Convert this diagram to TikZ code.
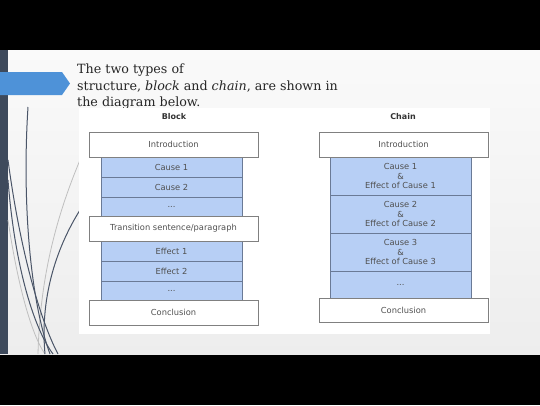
\documentclass[tikz,border=0pt]{standalone}
\usepackage{fontspec}
\setmainfont{DejaVu Serif}
\newfontfamily\diagfont{DejaVu Sans}
\definecolor{barblue}{HTML}{3E4A5C}
\definecolor{arrowblue}{HTML}{4E92D8}
\definecolor{cellblue}{HTML}{B7CFF5}
\definecolor{celledge}{HTML}{6A7A96}
\definecolor{boxedge}{HTML}{808080}
\definecolor{txtgray}{HTML}{505050}
\definecolor{curvedark}{HTML}{4A5568}
\tikzset{
  cell/.style={draw=celledge, fill=cellblue, line width=0.6pt, inner sep=0pt,
    minimum width=141pt, text=txtgray, font=\diagfont\fontsize{8.3}{9.6}\selectfont, align=center},
  wbox/.style={draw=boxedge, fill=white, line width=0.6pt, inner sep=0pt,
    minimum width=169pt, text=txtgray, font=\diagfont\fontsize{8.3}{9.6}\selectfont, align=center},
  coltitle/.style={font=\diagfont\bfseries\fontsize{8}{9}\selectfont, text=black!80},
  slidetext/.style={anchor=base west, inner sep=0pt, font=\fontsize{12.7}{15}\selectfont, text=black!85},
  deco/.style={line width=1pt, draw=curvedark},
  decolight/.style={line width=0.8pt, draw=gray!50}
}
\begin{document}
\begin{tikzpicture}[x=1pt,y=-1pt]
\useasboundingbox (0,0) rectangle (540,405);
% black bars
\fill[black] (0,0) rectangle (540,50);
\fill[black] (0,354) rectangle (540,405);
% slide background
\shade[top color=gray!4, bottom color=gray!14] (0,50) rectangle (540,354);
\fill[barblue] (0,50) rectangle (8,354);
% decorative curves
\draw[decolight] (80,160) .. controls (55,220) and (40,280) .. (38,354);
\draw[decolight] (8,220) .. controls (20,300) and (35,340) .. (45,354);
\draw[deco] (28,107) .. controls (22,200) and (30,300) .. (50,354);
\draw[deco] (8,160) .. controls (20,250) and (40,320) .. (58,354);
\draw[deco] (8,180) .. controls (15,270) and (35,330) .. (53,354);
\draw[deco] (80,210) .. controls (55,250) and (40,300) .. (45,354);
% arrow
\fill[arrowblue] (0,72) -- (62,72) -- (70,83.5) -- (62,95) -- (0,95) -- cycle;
% slide text
\node[slidetext] (l1) at (77,73) {The two types of};
\node[slidetext] (l2) at (77,90) {structure, \textit{block} and \textit{chain}, are shown in};
\node[slidetext] (l3) at (77,106) {the diagram below.};
% white image area
\fill[white] (79,108) rectangle (490,334);
% Block column
\node[coltitle] (bt) at (174,117) {Block};
\node[cell, minimum height=20pt] (bc1) at (171.5,167) {Cause 1};
\node[cell, minimum height=20pt] (bc2) at (171.5,187) {Cause 2};
\node[cell, minimum height=19pt] (bcd) at (171.5,206.5) {...};
\node[cell, minimum height=20pt] (be1) at (171.5,251) {Effect 1};
\node[cell, minimum height=20pt] (be2) at (171.5,271) {Effect 2};
\node[cell, minimum height=19pt] (bed) at (171.5,290.5) {...};
\node[wbox, minimum height=25pt] (bi) at (173.5,144.5) {Introduction};
\node[wbox, minimum height=25pt] (btr) at (173.5,228.5) {Transition sentence/paragraph};
\node[wbox, minimum height=25pt] (bco) at (173.5,312.5) {Conclusion};
% Chain column
\node[coltitle] (ct) at (403,117) {Chain};
\node[cell, minimum height=38pt] (cc1) at (400.5,176) {Cause 1\\\&\\Effect of Cause 1};
\node[cell, minimum height=38pt] (cc2) at (400.5,214) {Cause 2\\\&\\Effect of Cause 2};
\node[cell, minimum height=38pt] (cc3) at (400.5,252) {Cause 3\\\&\\Effect of Cause 3};
\node[cell, minimum height=27pt] (ccd) at (400.5,284.5) {...};
\node[wbox, minimum height=25pt] (ci) at (403.5,144.5) {Introduction};
\node[wbox, minimum height=24pt] (cco) at (403.5,310) {Conclusion};
\end{tikzpicture}
\end{document}
